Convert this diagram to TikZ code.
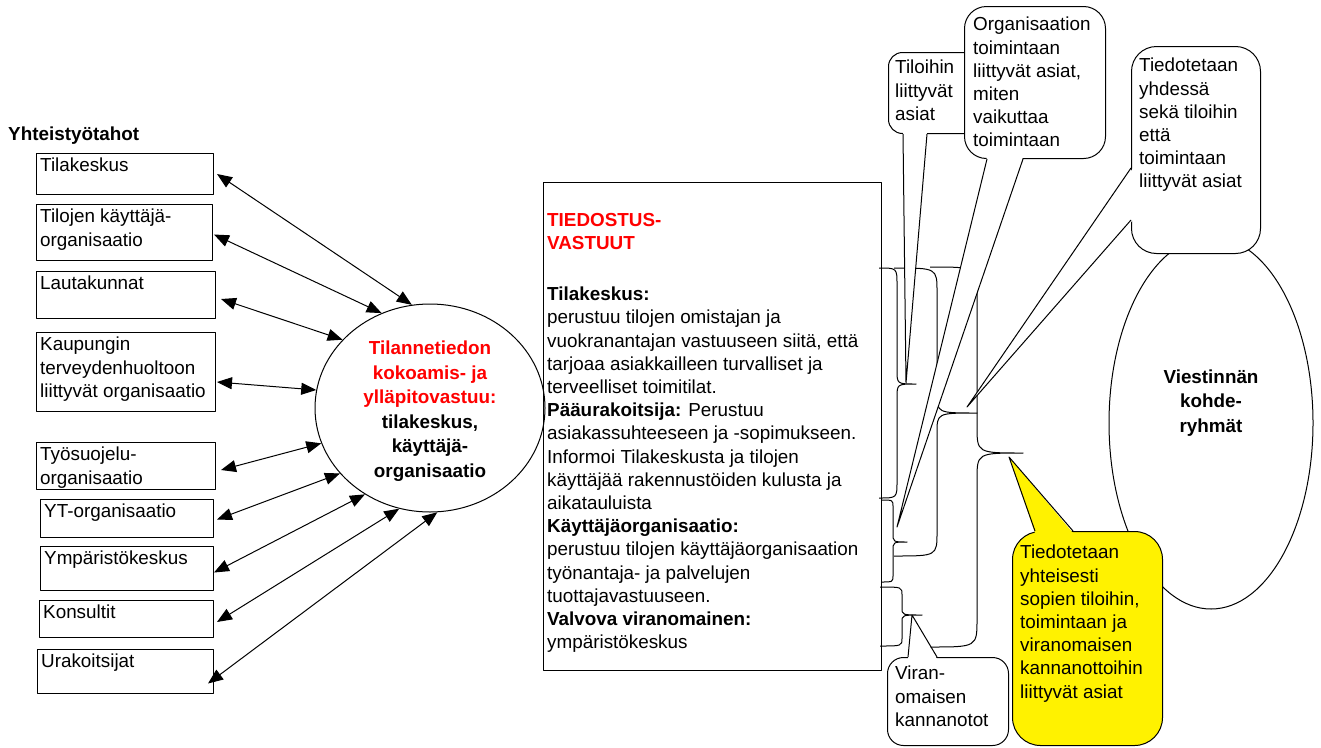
\documentclass[tikz,border=0pt]{standalone}
\usepackage{fontspec}
\setmainfont{Liberation Sans}
\usetikzlibrary{positioning, shapes.geometric, arrows.meta}

\tikzset{
  every node/.style={font=\fontsize{18.85}{23.2}\selectfont, inner sep=0pt},
  partbox/.style={draw, line width=1pt, anchor=north west},
  bubble/.style={draw, fill=white, line width=1pt, anchor=north west},
  link/.style={line width=1pt, {Triangle[length=15pt,width=12pt]}-{Triangle[length=15pt,width=12pt]}},
  txt/.style={align=left},
  boldtxt/.style={align=center, font=\fontsize{18.85}{24.5}\selectfont\bfseries},
  brace/.style={line width=1pt},
}

\begin{document}
\begin{tikzpicture}[x=1pt, y=-1pt, line join=round]
\useasboundingbox[fill=white] (0,0) rectangle (1321,747);

%partners
\node[anchor=base west, font=\fontsize{18.85}{23.2}\selectfont\bfseries] (yht) at (8,140) {Yhteistyötahot};
\foreach \nm/\xa/\ya/\xb/\yb/\txt in {
  b1/36/153/213/194/{Tilakeskus},
  b2/36/204/212/260/{Tilojen käyttäjä-\\organisaatio},
  b3/36/271/215/318/{Lautakunnat},
  b4/36/332/215/411/{Kaupungin\\terveydenhuoltoon\\liittyvät organisaatio},
  b5/36/442/215/489/{Työsuojelu-\\organisaatio},
  b6/40/499/213/537/{YT-organisaatio},
  b7/40/546/213/590/{Ympäristökeskus},
  b8/39/600/213/637/{Konsultit},
  b9/37/649/213/693/{Urakoitsijat}}{
  \node[partbox, minimum width={(\xb-\xa)*1pt}, minimum height={(\yb-\ya)*1pt}] (\nm) at (\xa,\ya) {};
  \node[txt, below right=5pt and 4pt of \nm.north west] (\nm-t) {\txt};
}

%central ellipse
\node[draw, ellipse, line width=1pt, minimum width=230pt, minimum height=208pt] (tila) at (430,408) {};
\node[boldtxt] (tila-t) at (430,411) {\textcolor{red}{Tilannetiedon}\\\textcolor{red}{kokoamis- ja}\\\textcolor{red}{ylläpitovastuu:}\\tilakeskus,\\käyttäjä-\\organisaatio};

\foreach \nm/\sh/\ang in {b1/{3pt,0pt}/100, b2/{1pt,-2pt}/117, b3/{5pt,-4pt}/142,
  b4/{1pt,-10pt}/171, b5/{5pt,-4pt}/198, b6/{3pt,-1pt}/216, b7/{0pt,-4pt}/233,
  b8/{3pt,-3pt}/253, b9/{-6pt,-12pt}/274}
  \draw[link] ([shift={(\sh)}]\nm.east) -- (tila.\ang);

%responsibilities
\node[partbox, minimum width=338pt, minimum height=488pt] (vastuu) at (543,182) {};
\node[txt, below right=31pt and 4pt of vastuu.north west] (vastuu-t) {%
\textcolor{red}{\textbf{TIEDOSTUS-}}\\
\textcolor{red}{\textbf{VASTUUT}}\\[28pt]
\textbf{Tilakeskus:}\\
perustuu tilojen omistajan ja\\
vuokranantajan vastuuseen siitä, että\\
tarjoaa asiakkailleen turvalliset ja\\
terveelliset toimitilat.\\
\textbf{Pääurakoitsija:} Perustuu\\
asiakassuhteeseen ja -sopimukseen.\\
Informoi Tilakeskusta ja tilojen\\
käyttäjää rakennustöiden kulusta ja\\
aikatauluista\\
\textbf{Käyttäjäorganisaatio:}\\
perustuu tilojen käyttäjäorganisaation\\
työnantaja- ja palvelujen\\
tuottajavastuuseen.\\
\textbf{Valvova viranomainen:}\\
ympäristökeskus};

%braces
\foreach \xa/\ya/\xs/\xt/\ym/\yb/\ra/\rb in {879/268/897/916/384/498/17/14,
  894/268/937/977/413/556/24/20, 930/267/977/1023/453/647/28/27,
  881/500/893/907/542/582/7/9, 880/587/902/922/615/646/8/7}
  \draw[brace] (\xa,\ya) .. controls (\xs,\ya) .. (\xs,{\ya+\ra}) -- (\xs,{\ym-\rb})
    .. controls (\xs,\ym) .. (\xt,\ym) .. controls (\xs,\ym) .. (\xs,{\ym+\rb})
    -- (\xs,{\yb-\ra}) .. controls (\xs,\yb) .. (\xa,\yb);

%callouts
\node[bubble, rounded corners=14pt, minimum width=100pt, minimum height=81pt] (tilo) at (888,52) {};
\node[txt, below right=8pt and 7pt of tilo.north west] (tilo-t) {Tiloihin\\liittyvät\\asiat};
\coordinate (tilo-p) at (906,383);
\fill[white] ([shift={(15pt,2pt)}]tilo.south west) -- (tilo-p) -- ([shift={(39pt,2pt)}]tilo.south west) -- cycle;
\draw[line width=1pt] ([xshift=15pt]tilo.south west) -- (tilo-p) -- ([xshift=39pt]tilo.south west);

\node[bubble, rounded corners=22pt, minimum width=141pt, minimum height=152pt] (orga) at (964,6) {};
\node[txt, below right=11pt and 9pt of orga.north west] (orga-t) {Organisaation\\toimintaan\\liittyvät asiat,\\miten\\vaikuttaa\\toimintaan};
\coordinate (orga-p) at (897,527);
\fill[white] ([shift={(23pt,2pt)}]orga.south west) -- (orga-p) -- ([shift={(59pt,2pt)}]orga.south west) -- cycle;
\draw[line width=1pt] ([xshift=23pt]orga.south west) -- (orga-p) -- ([xshift=59pt]orga.south west);

\node[draw, ellipse, line width=1pt, minimum width=204pt, minimum height=372pt] (kohde) at (1211,423) {};
\node[boldtxt] (kohde-t) at ([yshift=20pt]kohde.center) {Viestinnän\\kohde-\\ryhmät};

\node[bubble, rounded corners=25pt, minimum width=129pt, minimum height=207pt] (yhde) at (1131,46) {};
\node[txt, below right=12pt and 8pt of yhde.north west] (yhde-t) {Tiedotetaan\\yhdessä\\sekä tiloihin\\että\\toimintaan\\liittyvät asiat};
\coordinate (yhde-p) at (967,407);
\fill[white] ([shift={(2pt,-122pt)}]yhde.north west) -- (yhde-p) -- ([shift={(2pt,-174pt)}]yhde.north west) -- cycle;
\draw[line width=1pt] ([yshift=-122pt]yhde.north west) -- (yhde-p) -- ([yshift=-174pt]yhde.north west);

\node[bubble, rounded corners=16pt, minimum width=121pt, minimum height=88pt] (vira) at (887,657) {};
\node[txt, below right=9pt and 8pt of vira.north west] (vira-t) {Viran-\\omaisen\\kannanotot};
\coordinate (vira-p) at (912,615);
\fill[white] ([shift={(21pt,-2pt)}]vira.north west) -- (vira-p) -- ([shift={(50pt,-2pt)}]vira.north west) -- cycle;
\draw[line width=1pt] ([xshift=21pt]vira.north west) -- (vira-p) -- ([xshift=50pt]vira.north west);

\node[bubble, fill=yellow, rounded corners=28pt, minimum width=150pt, minimum height=214pt] (kelt) at (1012,531) {};
\node[txt, below right=14pt and 8pt of kelt.north west] (kelt-t) {Tiedotetaan\\yhteisesti\\sopien tiloihin,\\toimintaan ja\\viranomaisen\\kannanottoihin\\liittyvät asiat};
\coordinate (kelt-p) at (1009,457);
\fill[yellow] ([shift={(23pt,-2pt)}]kelt.north west) -- (kelt-p) -- ([shift={(61pt,-2pt)}]kelt.north west) -- cycle;
\draw[line width=1pt] ([xshift=23pt]kelt.north west) -- (kelt-p) -- ([xshift=61pt]kelt.north west);

\end{tikzpicture}
\end{document}
